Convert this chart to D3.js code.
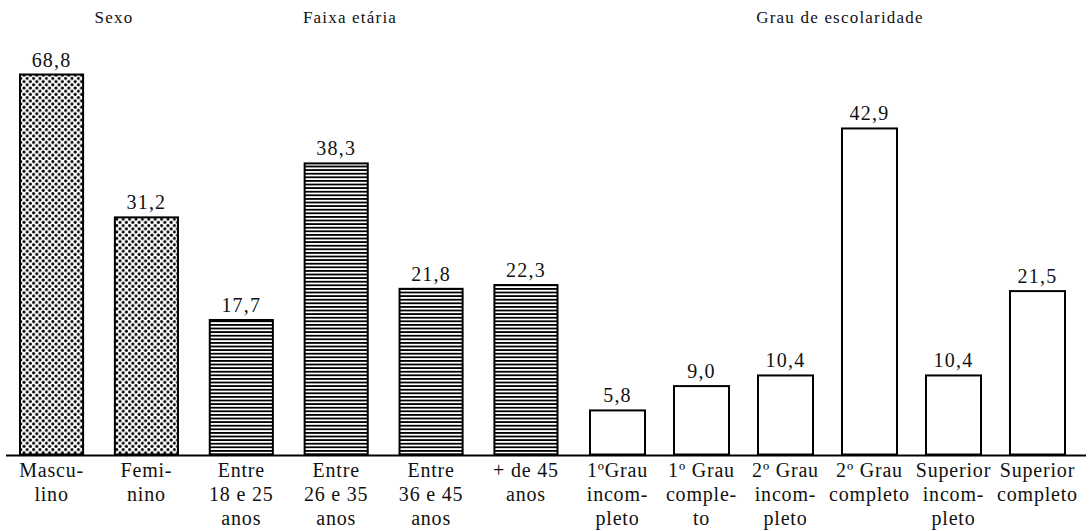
<!DOCTYPE html>
<html>
<head>
<meta charset="utf-8">
<script src="https://cdn.jsdelivr.net/npm/d3@7"></script>
<style>
  html, body { margin: 0; padding: 0; background: #fff; }
  svg { display: block; }
  text { font-family: "Liberation Serif", "DejaVu Serif", serif; fill: #111; }
</style>
</head>
<body>
<svg id="chart" width="1090" height="531"></svg>
<script>
// ---- data ----
const groupTitles = ["Sexo", "Faixa etária", "Grau de escolaridade"];

const sexoCategories = [["Mascu-", "lino"], ["Femi-", "nino"]];
const sexoValues = [68.8, 31.2];

const idadeCategories = [["Entre", "18 e 25", "anos"], ["Entre", "26 e 35", "anos"], ["Entre", "36 e 45", "anos"], ["+ de 45", "anos"]];
const idadeValues = [17.7, 38.3, 21.8, 22.3];

const escolaCategories = [["1ºGrau", "incom-", "pleto"], ["1º Grau", "comple-", "to"], ["2º Grau", "incom-", "pleto"], ["2º Grau", "completo"], ["Superior", "incom-", "pleto"], ["Superior", "completo"]];
const escolaValues = [5.8, 9.0, 10.4, 42.9, 10.4, 21.5];

// ---- drawing ----
const svg = d3.select("#chart");
const baseY = 454.5;

const defs = svg.append("defs");
const dots = defs.append("pattern").attr("id", "dots")
  .attr("patternUnits", "userSpaceOnUse").attr("width", 6.4).attr("height", 6.4);
dots.append("rect").attr("width", 6.4).attr("height", 6.4).attr("fill", "#fff");
dots.append("circle").attr("cx", 1.6).attr("cy", 1.6).attr("r", 1.55).attr("fill", "#000");
dots.append("circle").attr("cx", 4.8).attr("cy", 4.8).attr("r", 1.55).attr("fill", "#000");

const hlines = defs.append("pattern").attr("id", "hlines")
  .attr("patternUnits", "userSpaceOnUse").attr("width", 8).attr("height", 3.6);
hlines.append("rect").attr("width", 8).attr("height", 3.6).attr("fill", "#fff");
hlines.append("rect").attr("y", 0).attr("width", 8).attr("height", 1.8).attr("fill", "#000");

// y: bars above the printed frame are cut at the top (as in the original)
const y = d3.scaleLinear().domain([0, 50]).range([baseY, baseY - 380]).clamp(true);

const idx = n => d3.range(n);
const groups = [
  { cats: sexoCategories.concat(idadeCategories), vals: sexoValues.concat(idadeValues),
    fills: sexoValues.map(() => "url(#dots)").concat(idadeValues.map(() => "url(#hlines)")),
    range: [20, 557.5], pad: 0.335 },
  { cats: escolaCategories, vals: escolaValues,
    fills: escolaValues.map(() => "#fff"),
    range: [590, 1065], pad: 0.345 }
];

groups.forEach(g => {
  const x = d3.scaleBand().domain(idx(g.vals.length)).range(g.range)
    .paddingInner(g.pad).paddingOuter(0);
  const gg = svg.append("g");
  gg.selectAll("rect.bar").data(g.vals).join("rect")
    .attr("class", "bar")
    .attr("x", (d, i) => x(i))
    .attr("width", x.bandwidth())
    .attr("y", d => y(d))
    .attr("height", d => baseY - y(d))
    .attr("fill", (d, i) => g.fills[i])
    .attr("stroke", "#000")
    .attr("stroke-width", 2);
  gg.selectAll("text.val").data(g.vals).join("text")
    .attr("class", "val")
    .attr("x", (d, i) => x(i) + x.bandwidth() / 2)
    .attr("y", d => y(d) - 8)
    .attr("text-anchor", "middle")
    .attr("font-size", 20)
    .attr("letter-spacing", 1.2)
    .text(d => d3.format(".1f")(d).replace(".", ","));
  gg.selectAll("text.cat").data(g.cats).join("text")
    .attr("class", "cat")
    .attr("text-anchor", "middle")
    .attr("font-size", 20)
    .attr("letter-spacing", 0.8)
    .each(function(lines, i) {
      const t = d3.select(this);
      lines.forEach((ln, k) => {
        t.append("tspan")
          .attr("x", x(i) + x.bandwidth() / 2)
          .attr("y", 477 + k * 24)
          .text(ln);
      });
    });
});

// baseline
svg.append("line").attr("x1", 6).attr("x2", 1086)
  .attr("y1", baseY + 1).attr("y2", baseY + 1)
  .attr("stroke", "#000").attr("stroke-width", 2);

// group titles
const titleX = d3.scaleOrdinal().domain(groupTitles).range([114, 350, 840]);
svg.selectAll("text.title").data(groupTitles).join("text")
  .attr("class", "title")
  .attr("x", d => titleX(d))
  .attr("y", 23)
  .attr("text-anchor", "middle")
  .attr("font-size", 17)
  .attr("letter-spacing", 1.2)
  .text(d => d);
</script>
</body>
</html>
